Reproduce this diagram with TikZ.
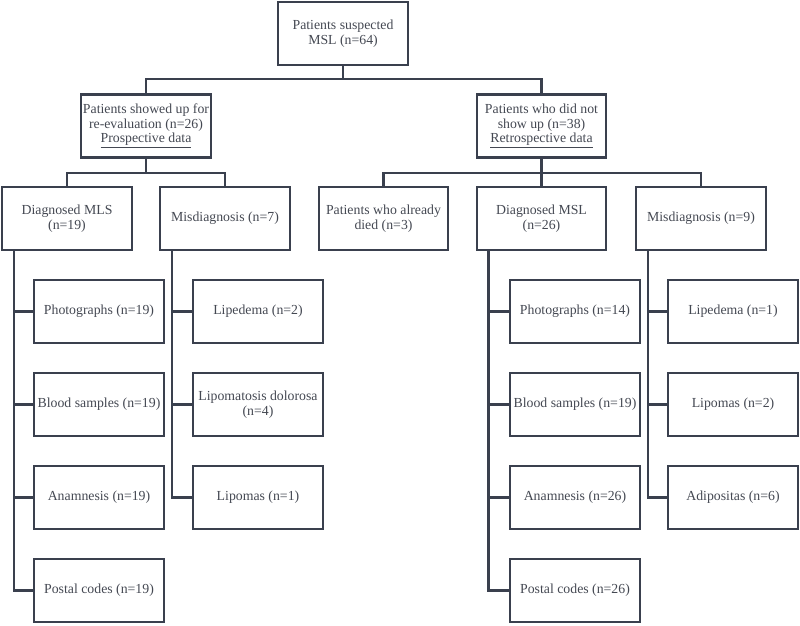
\documentclass[tikz,border=0pt]{standalone}
\usepackage{fontspec}
\setmainfont{Liberation Serif}
\definecolor{linecol}{RGB}{58,64,78}
\definecolor{textcol}{RGB}{68,72,82}
\begin{document}
\begin{tikzpicture}[x=1pt,y=-1pt,
  box/.style={draw=linecol,line width=2.4pt,rectangle,minimum width=129.5pt,minimum height=63pt,inner sep=1pt,align=center,text=textcol,font=\fontsize{13.8}{14.6}\selectfont},
  link/.style={draw=linecol,line width=2.4pt}]
\useasboundingbox (0,0) rectangle (800,625);
\node[box] (all) at (343,33.5) {Patients suspected\\MSL (n=64)};
\node[box] (pro) at (146,126) {Patients showed up for\\re-evaluation (n=26)\\\underline{Prospective data}};
\node[box] (retro) at (541.5,126) {Patients who did not\\show up (n=38)\\\underline{Retrospective data}};
\node[box] (diag1) at (67,218.5) {Diagnosed MLS\\(n=19)};
\node[box] (mis1) at (225,218.5) {Misdiagnosis (n=7)};
\node[box] (died) at (383.5,218.5) {Patients who already\\died (n=3)};
\node[box] (diag2) at (541.5,218.5) {Diagnosed MSL\\(n=26)};
\node[box] (mis2) at (701,218.5) {Misdiagnosis (n=9)};
\node[box] (photo1) at (99,311.5) {Photographs (n=19)};
\node[box] (blood1) at (99,404.5) {Blood samples (n=19)};
\node[box] (anam1) at (99,497.5) {Anamnesis (n=19)};
\node[box] (postal1) at (99,590.5) {Postal codes (n=19)};
\node[box] (lipe1) at (258,311.5) {Lipedema (n=2)};
\node[box] (dolor1) at (258,404.5) {Lipomatosis dolorosa\\(n=4)};
\node[box] (lipo1) at (258,497.5) {Lipomas (n=1)};
\node[box] (photo2) at (575,311.5) {Photographs (n=14)};
\node[box] (blood2) at (575,404.5) {Blood samples (n=19)};
\node[box] (anam2) at (575,497.5) {Anamnesis (n=26)};
\node[box] (postal2) at (575,590.5) {Postal codes (n=26)};
\node[box] (lipe2) at (733,311.5) {Lipedema (n=1)};
\node[box] (lipo2) at (733,404.5) {Lipomas (n=2)};
\node[box] (adipo2) at (733,497.5) {Adipositas (n=6)};
\path[link] (all.south) -- ++(0,13) -| (pro.north);
\path[link] (all.south) -- ++(0,13) -| (retro.north);
\path[link] (pro.south) -- ++(0,14) -| (diag1.north);
\path[link] (pro.south) -- ++(0,14) -| (mis1.north);
\path[link] (retro.south) -- ++(0,14) -| (died.north);
\path[link] (retro.south) -- (diag2.north);
\path[link] (retro.south) -- ++(0,14) -| (mis2.north);
\path[link] ([xshift=13pt]diag1.south west) |- (photo1.west);
\path[link] ([xshift=13pt]diag1.south west) |- (blood1.west);
\path[link] ([xshift=13pt]diag1.south west) |- (anam1.west);
\path[link] ([xshift=13pt]diag1.south west) |- (postal1.west);
\path[link] ([xshift=13pt]mis1.south west) |- (lipe1.west);
\path[link] ([xshift=13pt]mis1.south west) |- (dolor1.west);
\path[link] ([xshift=13pt]mis1.south west) |- (lipo1.west);
\path[link] ([xshift=13pt]diag2.south west) |- (photo2.west);
\path[link] ([xshift=13pt]diag2.south west) |- (blood2.west);
\path[link] ([xshift=13pt]diag2.south west) |- (anam2.west);
\path[link] ([xshift=13pt]diag2.south west) |- (postal2.west);
\path[link] ([xshift=13pt]mis2.south west) |- (lipe2.west);
\path[link] ([xshift=13pt]mis2.south west) |- (lipo2.west);
\path[link] ([xshift=13pt]mis2.south west) |- (adipo2.west);
\end{tikzpicture}
\end{document}
